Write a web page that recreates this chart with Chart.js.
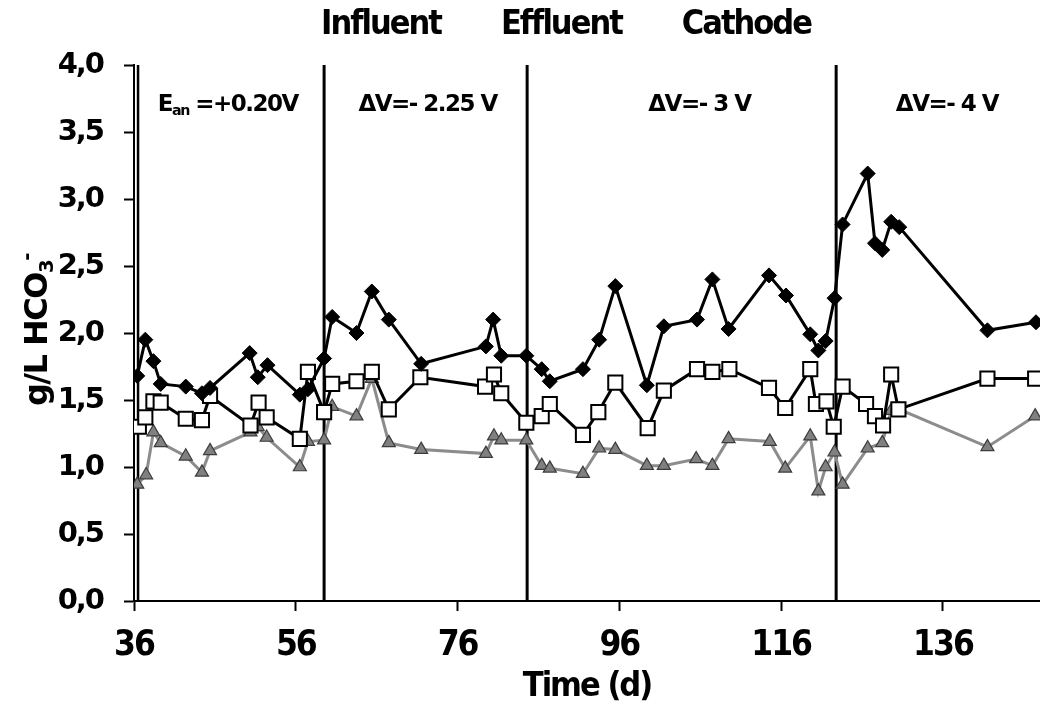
<!DOCTYPE html>
<html>
<head>
<meta charset="utf-8">
<script src="https://cdn.jsdelivr.net/npm/chart.js@4.4.1/dist/chart.umd.min.js"></script>
<style>
  html, body { margin: 0; padding: 0; background: #fff; }
  canvas { display: block; }
</style>
</head>
<body>
<canvas id="chart" width="1040" height="705"></canvas>
<script>
// Bicarbonate concentration (g/L HCO3-) over time (d)
const seriesNames = ['Influent', 'Effluent', 'Cathode'];

const influentDays = [36.4, 37.4, 38.4, 39.3, 42.4, 44.4, 45.4, 50.3, 51.3, 52.5, 56.5, 57.5, 59.5, 60.5, 63.5, 65.4, 67.5, 71.5, 79.5, 80.4, 81.4, 84.5, 86.4, 87.4, 91.5, 93.5, 95.5, 99.4, 101.5, 105.6, 107.5, 109.5, 114.5, 116.6, 119.6, 120.6, 121.5, 122.6, 123.6, 126.7, 127.6, 128.5, 129.6, 130.6, 141.5, 147.5];
const influentValues = [1.68, 1.95, 1.79, 1.62, 1.60, 1.55, 1.59, 1.85, 1.67, 1.76, 1.54, 1.58, 1.81, 2.12, 2.00, 2.31, 2.10, 1.77, 1.90, 2.10, 1.83, 1.83, 1.73, 1.64, 1.73, 1.95, 2.35, 1.61, 2.05, 2.10, 2.40, 2.03, 2.43, 2.28, 1.99, 1.87, 1.94, 2.26, 2.81, 3.19, 2.67, 2.62, 2.83, 2.79, 2.02, 2.08];

const effluentDays = [36.6, 37.4, 38.4, 39.3, 42.4, 44.4, 45.4, 50.4, 51.4, 52.4, 56.5, 57.5, 59.5, 60.5, 63.5, 65.4, 67.5, 71.4, 79.4, 80.5, 81.4, 84.5, 86.4, 87.4, 91.5, 93.4, 95.5, 99.5, 101.5, 105.6, 107.5, 109.6, 114.5, 116.5, 119.6, 120.3, 121.6, 122.5, 123.6, 126.5, 127.6, 128.6, 129.6, 130.5, 141.5, 147.4];
const effluentValues = [1.30, 1.37, 1.49, 1.48, 1.36, 1.35, 1.53, 1.31, 1.48, 1.37, 1.21, 1.71, 1.41, 1.62, 1.64, 1.71, 1.43, 1.67, 1.60, 1.69, 1.55, 1.33, 1.38, 1.47, 1.24, 1.41, 1.63, 1.29, 1.57, 1.73, 1.71, 1.73, 1.59, 1.44, 1.73, 1.47, 1.49, 1.30, 1.60, 1.47, 1.38, 1.31, 1.69, 1.43, 1.66, 1.66];

const cathodeDays = [36.4, 37.5, 38.4, 39.3, 42.4, 44.4, 45.4, 50.4, 51.3, 52.4, 56.5, 57.5, 59.5, 60.5, 63.5, 65.4, 67.5, 71.5, 79.5, 80.5, 81.4, 84.5, 86.4, 87.4, 91.5, 93.5, 95.5, 99.4, 101.5, 105.5, 107.5, 109.5, 114.6, 116.5, 119.6, 120.6, 121.5, 122.6, 123.6, 126.7, 128.5, 129.6, 130.6, 141.5, 147.4];
const cathodeValues = [0.87, 0.94, 1.26, 1.18, 1.08, 0.96, 1.12, 1.26, 1.30, 1.22, 1.00, 1.19, 1.20, 1.45, 1.38, 1.66, 1.18, 1.13, 1.10, 1.23, 1.20, 1.20, 1.01, 0.99, 0.95, 1.14, 1.13, 1.01, 1.01, 1.06, 1.01, 1.21, 1.19, 0.99, 1.23, 0.82, 1.00, 1.11, 0.87, 1.14, 1.18, 1.42, 1.43, 1.15, 1.38];

const xTickValues = [36, 56, 76, 96, 116, 136];
const yTickValues = [0, 0.5, 1, 1.5, 2, 2.5, 3, 3.5, 4];

// Operating phases: start day of each phase and its label
const phaseStartDays = [36.5, 59.5, 84.6, 122.8];
const phaseLabels = [
  [{ t: 'E' }, { t: 'an', sub: true }, { t: ' =+0.20V' }],
  [{ t: 'ΔV=- 2.25 V' }],
  [{ t: 'ΔV=- 3 V' }],
  [{ t: 'ΔV=- 4 V' }]
];
const phaseLabelDays = [47.6, 72.3, 105.9, 136.5];
const phaseLabelLevel = 3.66;

const COND = "'DejaVu Sans Condensed', 'DejaVu Sans', sans-serif";
const WIDE = "'DejaVu Sans', sans-serif";

const toPoints = (xs, ys) => xs.map((x, i) => ({ x, y: ys[i] }));

function drawParts(ctx, parts, size, family, x, y) {
  const fontFor = p => 'bold ' + (p.sub || p.sup ? size * 0.62 : size) + 'px ' + family;
  const widths = parts.map(p => { ctx.font = fontFor(p); return ctx.measureText(p.t).width; });
  const total = widths.reduce((a, b) => a + b, 0);
  let cx = x - total / 2;
  parts.forEach((p, i) => {
    ctx.font = fontFor(p);
    const dy = p.sub ? size * 0.2 : (p.sup ? -size * 0.45 : 0);
    ctx.fillText(p.t, cx, y + dy);
    cx += widths[i];
  });
}

const spacingPlugin = {
  id: 'tightText',
  beforeLayout(chart) { chart.ctx.letterSpacing = '-2px'; },
  beforeDraw(chart) { chart.ctx.letterSpacing = '-2px'; }
};

const phasePlugin = {
  id: 'phases',
  beforeDatasetsDraw(chart) {
    const { ctx, chartArea, scales: { x, y } } = chart;
    ctx.save();
    ctx.strokeStyle = '#000';
    phaseStartDays.forEach((d, i) => {
      const px = x.getPixelForValue(d);
      ctx.lineWidth = i === 0 ? 2.5 : 3;
      ctx.beginPath();
      ctx.moveTo(px, chartArea.top);
      ctx.lineTo(px, chartArea.bottom);
      ctx.stroke();
    });
    ctx.fillStyle = '#000';
    ctx.textBaseline = 'alphabetic';
    ctx.textAlign = 'left';
    ctx.letterSpacing = '-1.5px';
    const py = y.getPixelForValue(phaseLabelLevel);
    phaseLabels.forEach((parts, i) => {
      drawParts(ctx, parts, 23, WIDE, x.getPixelForValue(phaseLabelDays[i]), py);
    });
    ctx.restore();
  }
};

const yTitlePlugin = {
  id: 'yTitle',
  afterDraw(chart) {
    const { ctx } = chart;
    ctx.save();
    ctx.fillStyle = '#000';
    ctx.textAlign = 'left';
    ctx.textBaseline = 'alphabetic';
    ctx.letterSpacing = '-1.5px';
    ctx.translate(47, 330);
    ctx.rotate(-Math.PI / 2);
    drawParts(ctx, [{ t: 'g/L HCO' }, { t: '3', sub: true }, { t: '-', sup: true }], 32, WIDE, 0, 0);
    ctx.restore();
  }
};

new Chart(document.getElementById('chart').getContext('2d'), {
  type: 'line',
  data: {
    datasets: [
      {
        label: seriesNames[0],
        data: toPoints(influentDays, influentValues),
        borderColor: '#000', borderWidth: 3,
        pointStyle: 'rectRot', pointRadius: 7.5,
        pointBackgroundColor: '#000', pointBorderColor: '#000', pointBorderWidth: 1
      },
      {
        label: seriesNames[1],
        data: toPoints(effluentDays, effluentValues),
        borderColor: '#000', borderWidth: 3,
        pointStyle: 'rect', pointRadius: 10,
        pointBackgroundColor: '#fff', pointBorderColor: '#000', pointBorderWidth: 2
      },
      {
        label: seriesNames[2],
        data: toPoints(cathodeDays, cathodeValues),
        borderColor: '#8c8c8c', borderWidth: 3,
        pointStyle: 'triangle', pointRadius: 7.5,
        pointBackgroundColor: '#808080', pointBorderColor: '#3c3c3c', pointBorderWidth: 1.2
      }
    ]
  },
  options: {
    responsive: false,
    animation: false,
    devicePixelRatio: 1,
    layout: { autoPadding: false, padding: { left: 40, right: 0, top: 0, bottom: 0 } },
    elements: { line: { tension: 0 } },
    plugins: {
      legend: {
        position: 'top',
        align: 'center',
        weight: 3000,
        labels: {
          boxWidth: 35, boxHeight: 0, padding: 8,
          color: '#000',
          font: { family: COND, size: 34, weight: 'bold' },
          generateLabels: chart => Chart.defaults.plugins.legend.labels.generateLabels(chart).map(l => ({
            ...l, fillStyle: 'rgba(0,0,0,0)', strokeStyle: 'rgba(0,0,0,0)', lineWidth: 0
          }))
        }
      },
      title: { display: true, text: ' ', padding: { top: 0, bottom: 12 }, font: { size: 1, lineHeight: 1 } },
      tooltip: { enabled: false }
    },
    scales: {
      x: {
        type: 'linear', min: 36, max: 148,
        afterBuildTicks: s => { s.ticks = xTickValues.map(v => ({ value: v })); },
        afterFit: s => { s.height = 104; s.paddingLeft = 0; s.paddingRight = 0; },
        grid: { drawOnChartArea: false, drawTicks: true, tickLength: 10, tickWidth: 2, tickColor: '#000' },
        border: { display: true, color: '#000', width: 2 },
        ticks: {
          color: '#000', padding: 17, maxRotation: 0, autoSkip: false,
          font: { family: COND, size: 35, weight: 'bold', lineHeight: 1 }
        },
        title: {
          display: true, text: 'Time (d)', color: '#000',
          font: { family: COND, size: 34, weight: 'bold', lineHeight: 1 },
          padding: { top: 0, bottom: 1 }
        }
      },
      y: {
        type: 'linear', min: 0, max: 4,
        afterBuildTicks: s => { s.ticks = yTickValues.map(v => ({ value: v })); },
        afterFit: s => { s.width = 94; s.paddingTop = 0; s.paddingBottom = 0; },
        grid: { drawOnChartArea: false, drawTicks: true, tickLength: 10, tickWidth: 2, tickColor: '#000' },
        border: { display: true, color: '#000', width: 2 },
        ticks: {
          color: '#000', padding: 21,
          font: { family: WIDE, size: 29, weight: 'bold', lineHeight: 1.2 },
          callback: v => v.toFixed(1).replace('.', ',')
        }
      }
    }
  },
  plugins: [spacingPlugin, phasePlugin, yTitlePlugin]
});
</script>
</body>
</html>
